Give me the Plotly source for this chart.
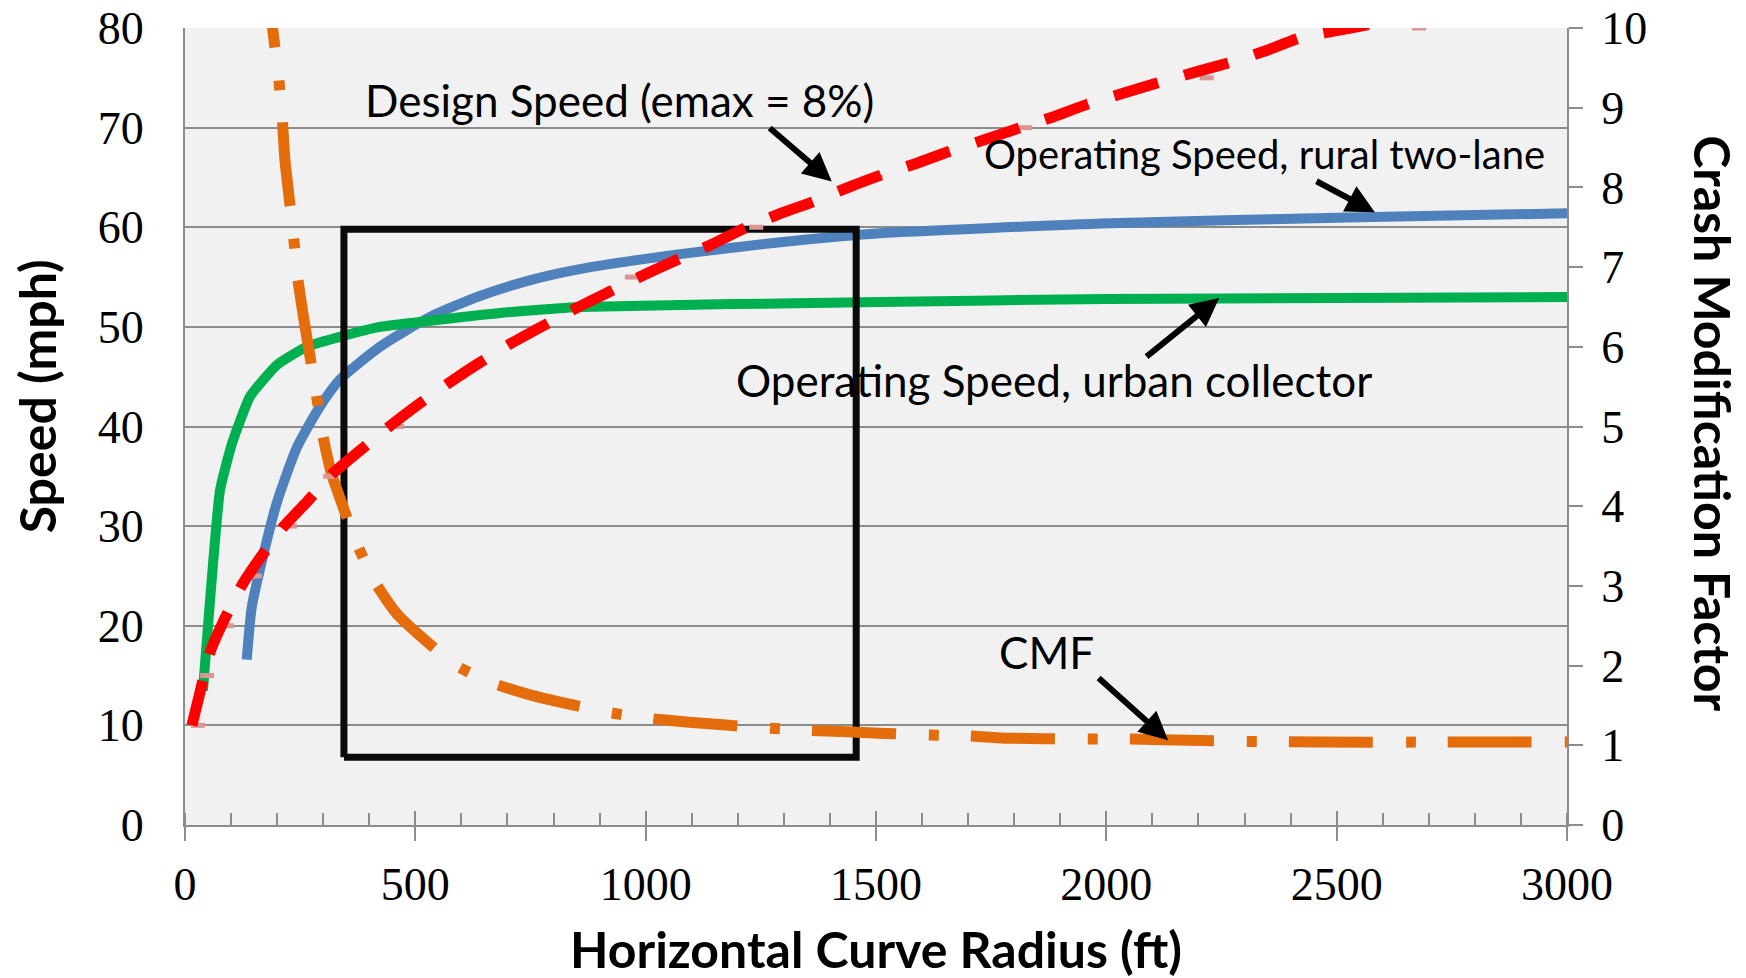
import plotly.graph_objects as go

# ---------------- data ----------------
radius_rural = [134, 145, 169, 199, 243, 293, 336, 423, 532, 640, 750, 857, 1075, 1292, 1509, 2008, 2551, 3000]
speed_rural = [16.6, 21.9, 26.9, 32.3, 37.9, 42.0, 44.7, 48.0, 51.0, 53.1, 54.7, 55.8, 57.3, 58.5, 59.4, 60.4, 61.0, 61.4]

radius_urban = [39, 76, 102, 141, 200, 264, 344, 423, 684, 857, 1509, 2000, 2500, 3000]
speed_urban = [13.5, 33.6, 38.3, 43.0, 46.2, 48.0, 49.1, 50.0, 51.4, 52.0, 52.5, 52.8, 52.9, 53.0]

radius_design = [15, 33, 54, 83, 124, 163, 213, 264, 321, 380, 449, 506, 580, 636, 710,
                 850, 920, 996, 1066, 1140, 1210, 1288, 1360, 1440, 1509, 1587, 1658, 1737,
                 1813, 1886, 1962, 2040, 2119, 2195, 2273, 2351, 2420, 2530, 2700]
speed_design = [10.0, 13.4, 17.3, 20.4, 24.1, 26.8, 29.9, 32.4, 35.3, 37.6, 40.2, 42.2, 44.6, 46.3, 48.4,
                51.9, 53.5, 55.2, 56.7, 58.2, 59.8, 61.3, 62.5, 64.0, 65.2, 66.4, 67.6, 68.8,
                70.0, 71.1, 72.4, 73.5, 74.6, 75.6, 76.6, 77.8, 79.0, 80.0, 81.5]

radius_table = [28, 48, 91, 152, 228, 315, 460, 595, 770, 970, 1240, 1500, 1824, 2218, 2679]
speed_table = [10, 15, 20, 25, 30, 35, 40, 45, 50, 55, 60, 65, 70, 75, 80]

radius_cmf = [175, 190, 203, 211, 217, 235, 244, 257, 284, 298, 318, 373, 412, 463, 586, 668, 751,
              911, 1003, 1094, 1255, 1346, 1437, 1602, 1691, 1780, 1947, 2034, 2123, 2290, 2460,
              2724, 3000]
cmf_values = [10.8, 10.0, 9.39, 8.87, 8.34, 7.42, 6.89, 6.38, 5.44, 4.92, 4.41, 3.53, 3.05, 2.63, 2.01,
              1.78, 1.63, 1.42, 1.34, 1.29, 1.22, 1.19, 1.17, 1.13, 1.12, 1.09, 1.08, 1.08, 1.07,
              1.05, 1.04, 1.04, 1.04]

box_radius = [345, 1457]
box_speed = [6.8, 59.8]

x_ticks = [0, 500, 1000, 1500, 2000, 2500, 3000]
y_ticks = [0, 10, 20, 30, 40, 50, 60, 70, 80]
y2_ticks = [0, 1, 2, 3, 4, 5, 6, 7, 8, 9, 10]

labels = ["Design Speed (emax = 8%)", "Operating Speed, rural two-lane",
          "Operating Speed, urban collector", "CMF"]
label_r = [944, 2344, 1886, 1871]
label_v = [72.8, 67.4, 44.7, 17.4]
label_size = [44, 40, 44, 44]
arrow_head_r = [1404, 2583, 2245, 2134]
arrow_head_v = [64.6, 61.5, 52.9, 8.5]
arrow_tail_r = [1266, 2453, 2084, 1980]
arrow_tail_v = [70.1, 64.7, 46.9, 14.9]

# ---------------- styles ----------------
GRAY = "#8C8C8C"
SERIF = "Liberation Serif"
SANS = "Lato"
tickfont = dict(family=SERIF, size=46, color="black")

fig = go.Figure()

fig.add_trace(go.Scatter(x=radius_rural, y=speed_rural, mode="lines",
                         line=dict(color="#4F81BD", width=10, shape="spline", smoothing=0.6),
                         xaxis="x", yaxis="y", showlegend=False, hoverinfo="skip"))
fig.add_trace(go.Scatter(x=radius_urban, y=speed_urban, mode="lines",
                         line=dict(color="#00B050", width=10, shape="spline", smoothing=0.4),
                         xaxis="x", yaxis="y", showlegend=False, hoverinfo="skip"))
fig.add_trace(go.Scatter(x=[box_radius[0], box_radius[1], box_radius[1], box_radius[0], box_radius[0]],
                         y=[box_speed[0], box_speed[0], box_speed[1], box_speed[1], box_speed[0]],
                         mode="lines", line=dict(color="#0A0A0A", width=7),
                         xaxis="x", yaxis="y", showlegend=False, hoverinfo="skip"))
fig.add_trace(go.Scatter(x=radius_cmf, y=cmf_values, mode="lines",
                         line=dict(color="#E46C0A", width=11, shape="spline", smoothing=0.5,
                                   dash="84px,33px,10px,32px"),
                         xaxis="x", yaxis="y2", showlegend=False, hoverinfo="skip"))
fig.add_trace(go.Scatter(x=radius_table, y=speed_table, mode="markers",
                         marker=dict(symbol="line-ew", size=10, color="#D99694",
                                     line=dict(color="#D99694", width=5)),
                         xaxis="x2", yaxis="y3", showlegend=False, hoverinfo="skip"))
fig.add_trace(go.Scatter(x=radius_design, y=speed_design, mode="lines",
                         line=dict(color="#FF0000", width=11, shape="spline", smoothing=0.5,
                                   dash="46px,27px"),
                         xaxis="x2", yaxis="y3", showlegend=False, hoverinfo="skip"))

annotations = []
for t, r, v, s in zip(labels, label_r, label_v, label_size):
    annotations.append(dict(text=t, x=r, y=v, xref="x", yref="y", showarrow=False,
                            font=dict(family=SANS, size=s, color="black"),
                            xanchor="center", yanchor="middle"))
for hr, hv, tr, tv in zip(arrow_head_r, arrow_head_v, arrow_tail_r, arrow_tail_v):
    annotations.append(dict(text="", x=hr, y=hv, xref="x", yref="y", ax=tr, ay=tv,
                            axref="x", ayref="y", showarrow=True, arrowhead=2,
                            arrowsize=0.95, arrowwidth=6, arrowcolor="black"))
title_font = dict(family=SANS, size=50, color="black", weight="bold")
annotations.append(dict(text="Horizontal Curve Radius (ft)", x=0.5, y=-0.155, xref="paper",
                        yref="paper", showarrow=False, font=title_font,
                        xanchor="center", yanchor="middle"))
annotations.append(dict(text="Speed (mph)", x=-0.107, y=0.538, xref="paper", yref="paper",
                        showarrow=False, font=title_font, textangle=-90,
                        xanchor="center", yanchor="middle"))
annotations.append(dict(text="Crash Modification Factor", x=1.1056, y=0.504, xref="paper",
                        yref="paper", showarrow=False, font=title_font, textangle=90,
                        xanchor="center", yanchor="middle"))

fig.update_layout(
    width=1746, height=978,
    margin=dict(l=185, r=179, t=28, b=153, pad=0, autoexpand=False),
    paper_bgcolor="white", plot_bgcolor="#F1F1F1",
    showlegend=False,
    annotations=annotations,
    xaxis=dict(range=[0, 3000], tickvals=x_ticks, ticks="outside", ticklen=14, tickwidth=2,
               tickcolor=GRAY, showline=True, linecolor=GRAY, linewidth=2, showgrid=False,
               zeroline=False, tickfont=tickfont, ticklabelstandoff=4, automargin=False,
               minor=dict(dtick=100, ticks="inside", ticklen=12, tickwidth=2, tickcolor=GRAY,
                          showgrid=False)),
    xaxis2=dict(range=[0, 3000], overlaying="x", anchor="y", side="bottom", tickvals=x_ticks,
                ticks="inside", ticklen=14, tickwidth=2, tickcolor=GRAY, showticklabels=False,
                showline=False, showgrid=False, zeroline=False, automargin=False),
    yaxis=dict(range=[0, 80], tickvals=y_ticks, ticks="", showline=True, linecolor=GRAY,
               linewidth=2, showgrid=True, gridcolor=GRAY, gridwidth=2, zeroline=False,
               tickfont=tickfont, ticklabelstandoff=30, automargin=False),
    yaxis2=dict(range=[0, 10], tickvals=y2_ticks, overlaying="y", side="right", anchor="x",
                ticks="outside", ticklen=14, tickwidth=2, tickcolor=GRAY, showline=True,
                linecolor=GRAY, linewidth=2, showgrid=False, zeroline=False,
                tickfont=tickfont, ticklabelstandoff=9, automargin=False),
    yaxis3=dict(range=[0, 80], overlaying="y", anchor="x2", visible=False, automargin=False),
)

fig.write_html("out.html", config={"displayModeBar": False},
               post_script="document.body.style.margin='0';")
